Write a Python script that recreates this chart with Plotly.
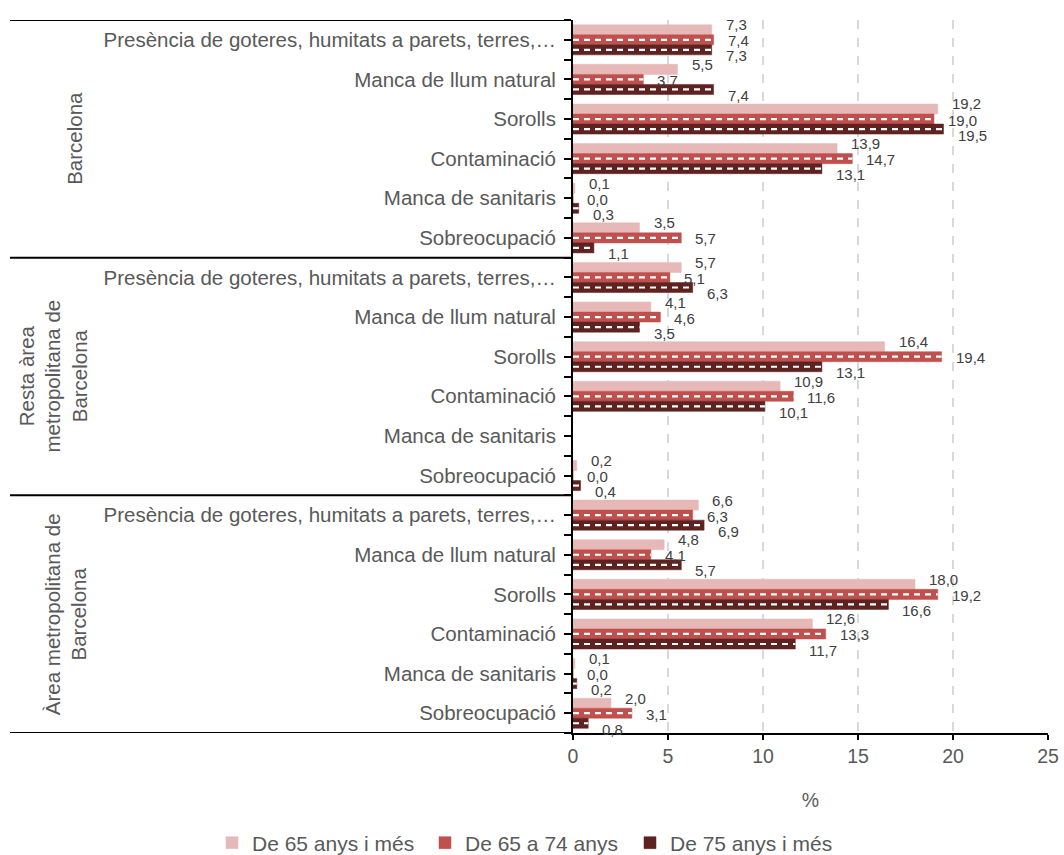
import plotly.graph_objects as go

# Housing problems reported by people aged 65+, by territory (%)
territories = ["Barcelona", "Resta àrea<br>metropolitana de<br>Barcelona", "Àrea metropolitana de<br>Barcelona"]
problems = [
    "Presència de goteres, humitats a parets, terres,…",
    "Manca de llum natural",
    "Sorolls",
    "Contaminació",
    "Manca de sanitaris",
    "Sobreocupació",
]
series_names = ["De 65 anys i més", "De 65 a 74 anys", "De 75 anys i més"]

de_65_i_mes = [7.3, 5.5, 19.2, 13.9, 0.1, 3.5,
               5.7, 4.1, 16.4, 10.9, None, 0.2,
               6.6, 4.8, 18.0, 12.6, 0.1, 2.0]
de_65_a_74 = [7.4, 3.7, 19.0, 14.7, 0.0, 5.7,
              5.1, 4.6, 19.4, 11.6, None, 0.0,
              6.3, 4.1, 19.2, 13.3, 0.0, 3.1]
de_75_i_mes = [7.3, 7.4, 19.5, 13.1, 0.3, 1.1,
               6.3, 3.5, 13.1, 10.1, None, 0.4,
               6.9, 5.7, 16.6, 11.7, 0.2, 0.8]

x_ticks = [0, 5, 10, 15, 20, 25]

series_values = [de_65_i_mes, de_65_a_74, de_75_i_mes]
colors = ["#E6B9B8", "#C0504D", "#5E2221"]
dashed = [False, True, True]

n_cat = len(problems) * len(territories)
positions = list(range(n_cat))
cat_labels = problems * len(territories)

TEXT = "#595959"
FONT = "Liberation Sans, Arial, sans-serif"
BARGAP = 0.24
bar_w = (1 - BARGAP) / len(series_values)

PLOT_L, PLOT_R, PLOT_T, PLOT_B = 573, 1048, 20, 733
W, H = 1064, 855

# one legend per series, laid out in a single row under the axis
legend_names = ["legend", "legend2", "legend3"]
legend_left_px = [212, 425, 630]

fig = go.Figure()
for name, vals, col, lg in zip(series_names, series_values, colors, legend_names):
    fig.add_trace(go.Bar(
        y=positions, x=vals, orientation="h", name=name, legend=lg,
        marker=dict(color=col, line=dict(color=col, width=0.5)),
        hoverinfo="skip",
    ))

# white dashed stroke through the middle of the patterned series
for k, (vals, use_dash) in enumerate(zip(series_values, dashed)):
    if not use_dash:
        continue
    off = (k - 1) * bar_w
    xs, ys = [], []
    for i, v in enumerate(vals):
        if v is None or v <= 0:
            continue
        xs += [0, v, None]
        ys += [i + off, i + off, None]
    fig.add_trace(go.Scatter(
        x=xs, y=ys, mode="lines", showlegend=False, hoverinfo="skip",
        line=dict(color="white", width=2.2, dash="6px,5px"),
    ))

# value labels at the end of each bar
yshifts = [5, -1, -6]
annotations = []
for k, vals in enumerate(series_values):
    off = (k - 1) * bar_w
    for i, v in enumerate(vals):
        if v is None:
            continue
        annotations.append(dict(
            x=v, y=i + off, xref="x", yref="y",
            text=f"{v:.1f}".replace(".", ","),
            showarrow=False, xanchor="left", yanchor="middle",
            xshift=12, yshift=yshifts[k],
            font=dict(family=FONT, size=15, color="#404040"),
        ))


def px_to_paper(px):
    return (px - PLOT_L) / (PLOT_R - PLOT_L)


# territory group labels (rotated) on the left
group_x = [75, 52, 66]
for g, (label, gx) in enumerate(zip(territories, group_x)):
    annotations.append(dict(
        x=px_to_paper(gx), y=g * len(problems) + (len(problems) - 1) / 2,
        xref="paper", yref="y", text=label, textangle=-90,
        showarrow=False, xanchor="center", yanchor="middle",
        font=dict(family=FONT, size=20.5, color=TEXT),
    ))

# horizontal divider lines between territory groups
shapes = []
for g in range(len(territories) + 1):
    yb = g * len(problems) - 0.5
    shapes.append(dict(
        type="line", xref="paper", yref="y",
        x0=px_to_paper(10), x1=0, y0=yb, y1=yb,
        line=dict(color="black", width=2),
    ))

legend_style = dict(
    orientation="h", xref="container", yref="container",
    xanchor="left", y=1 - 843 / H, yanchor="middle",
    font=dict(family=FONT, size=21, color=TEXT),
    itemwidth=30, bgcolor="rgba(0,0,0,0)",
)

fig.update_layout(
    width=W, height=H,
    margin=dict(l=PLOT_L, r=W - PLOT_R, t=PLOT_T, b=H - PLOT_B),
    paper_bgcolor="white", plot_bgcolor="white",
    barmode="group", bargap=BARGAP, bargroupgap=0,
    font=dict(family=FONT, size=20, color=TEXT),
    showlegend=True,
    legend=dict(x=legend_left_px[0] / W, **legend_style),
    legend2=dict(x=legend_left_px[1] / W, **legend_style),
    legend3=dict(x=legend_left_px[2] / W, **legend_style),
    annotations=annotations,
    shapes=shapes,
)

fig.update_xaxes(
    range=[0, 25], tickvals=x_ticks, ticktext=[str(t) for t in x_ticks],
    showgrid=True, gridcolor="#D9D9D9", griddash="dash", gridwidth=2,
    showline=True, linecolor="black", linewidth=2,
    ticks="outside", ticklen=5, tickcolor="black", tickwidth=2,
    tickfont=dict(family=FONT, size=19.5, color=TEXT),
    title=dict(text="%", font=dict(family=FONT, size=19.5, color=TEXT), standoff=27),
    zeroline=False, automargin=False,
)

fig.update_yaxes(
    range=[n_cat - 0.5, -0.5],
    tickvals=positions, ticktext=cat_labels,
    showgrid=False, zeroline=False, automargin=False,
    showline=True, linecolor="black", linewidth=2,
    ticks="outside", ticklen=7, tickcolor="black", tickwidth=2,
    ticklabelstandoff=4,
    minor=dict(tick0=0.5, dtick=1, ticks="outside", ticklen=7,
               tickcolor="black", tickwidth=2, showgrid=False),
    tickfont=dict(family=FONT, size=20.5, color=TEXT),
)

fig.write_html("out.html")
